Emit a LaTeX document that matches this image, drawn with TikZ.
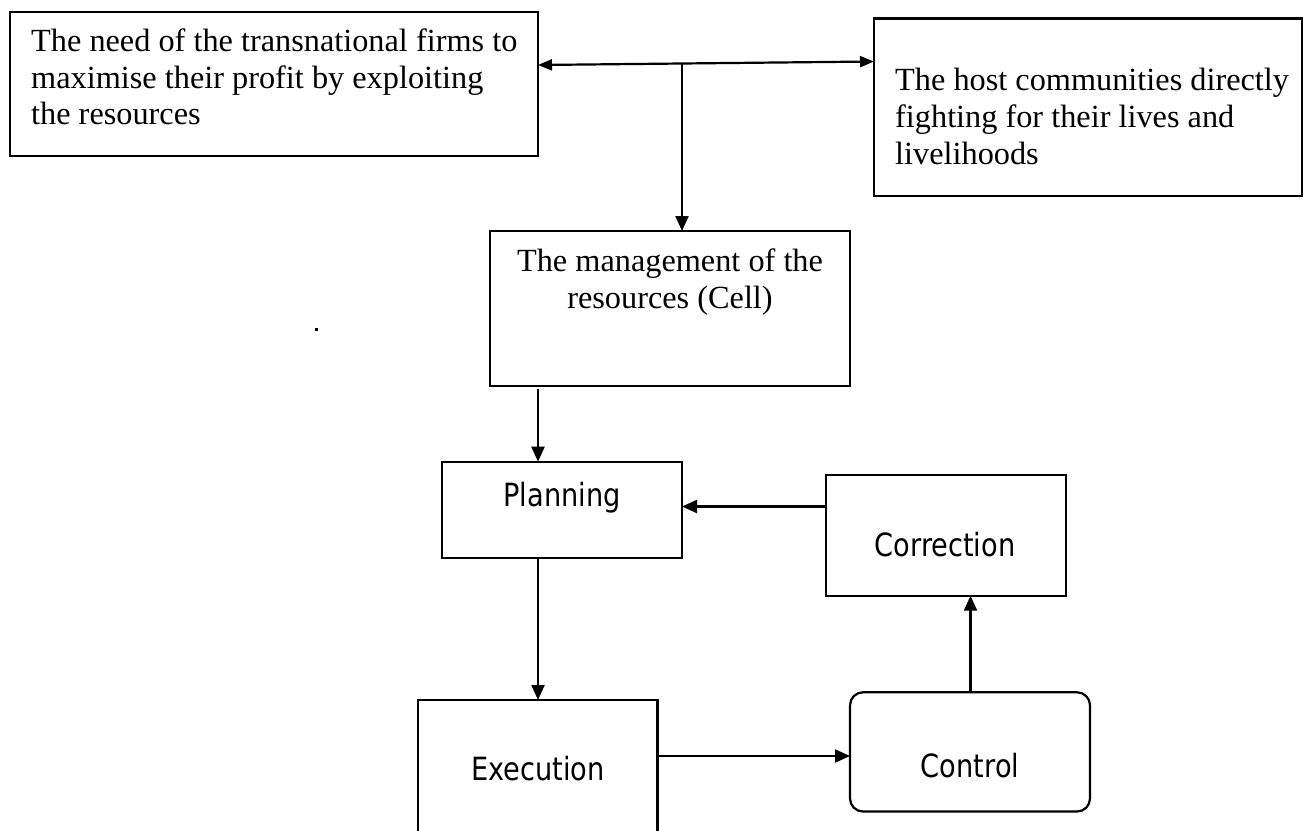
\documentclass[tikz,border=0pt]{standalone}
\usepackage{fontspec}
\setmainfont{Liberation Serif}
\newfontfamily\tahfont[FakeStretch=0.85]{DejaVu Sans}
\usetikzlibrary{arrows.meta}
\begin{document}
\begin{tikzpicture}[x=1pt,y=-1pt,
  boxst/.style={draw, line width=2.2pt, inner sep=0pt, outer sep=0pt, anchor=north west},
  serifline/.style={inner sep=0pt, font=\fontsize{32.3}{37}\selectfont},
  sansline/.style={inner sep=0pt, font=\tahfont\fontsize{32}{38}\selectfont, anchor=base},
  arr/.style={line width=2.2pt, -{Triangle[length=15pt,width=13pt]}},
  darr/.style={line width=2.2pt, {Triangle[length=14pt,width=11pt]}-{Triangle[length=14pt,width=11pt]}}]
\useasboundingbox (0,0) rectangle (1305,830);
\fill[white] (0,0) rectangle (1305,830);
\clip (0,0) rectangle (1305,830);

% boxes
\node[boxst, minimum width=528pt, minimum height=144.4pt] (A) at (10,11.6) {};
\node[boxst, minimum width=428pt, minimum height=177.5pt] (B) at (874,18.5) {};
\node[boxst, minimum width=360pt, minimum height=155pt] (C) at (490,231) {};
\node[boxst, minimum width=240pt, minimum height=96.3pt] (P) at (442,461.7) {};
\node[boxst, minimum width=240pt, minimum height=120.7pt] (R) at (826,475) {};
\node[boxst, minimum width=239.5pt, minimum height=200pt] (E) at (418,700) {};
\node[boxst, rounded corners=13pt, minimum width=240pt, minimum height=119.2pt] (K) at (850,692.3) {};

% texts
\node[serifline, anchor=base west] (a1) at (31,51.5) {The need of the transnational firms to};
\node[serifline, anchor=base west] (a2) at (31,88) {maximise their profit by exploiting};
\node[serifline, anchor=base west] (a3) at (31,124.7) {the resources};
\node[serifline, anchor=base west] (b1) at (895,90.5) {The host communities directly};
\node[serifline, anchor=base west] (b2) at (895,127.5) {fighting for their lives and};
\node[serifline, anchor=base west] (b3) at (895,164.5) {livelihoods};
\node[serifline, anchor=base] (c1) at (670,271.3) {The management of the};
\node[serifline, anchor=base] (c2) at (670,308.3) {resources (Cell)};
\node[sansline] (pt) at (562,506.5) {Planning};
\node[sansline] (rt) at (945,556.5) {Correction};
\node[sansline] (et) at (538,780) {Execution};
\node[sansline] (kt) at (970,777.5) {Control};

% stray dot
\fill (314.5,328) rectangle (317.5,330.5);

% connectors
\coordinate (j) at (682,63.5);
\coordinate (xl) at (538,0);
\coordinate (yc) at (0,506.5);
\coordinate (ye) at (0,756);
\coordinate (xk) at (970.5,0);
\draw[darr] ([yshift=18.8pt]A.east) -- ([yshift=45.75pt]B.west);
\draw[arr] (j) -- (j |- C.north);
\draw[arr] ([yshift=-3pt]C.south -| xl) -- (xl |- P.north);
\draw[arr] (P.south -| xl) -- (xl |- E.north);
\draw[arr] (R.west |- yc) -- (P.east |- yc);
\draw[arr] (E.east |- ye) -- (K.west |- ye);
\draw[arr] (K.north -| xk) -- (R.south -| xk);
\end{tikzpicture}
\end{document}
